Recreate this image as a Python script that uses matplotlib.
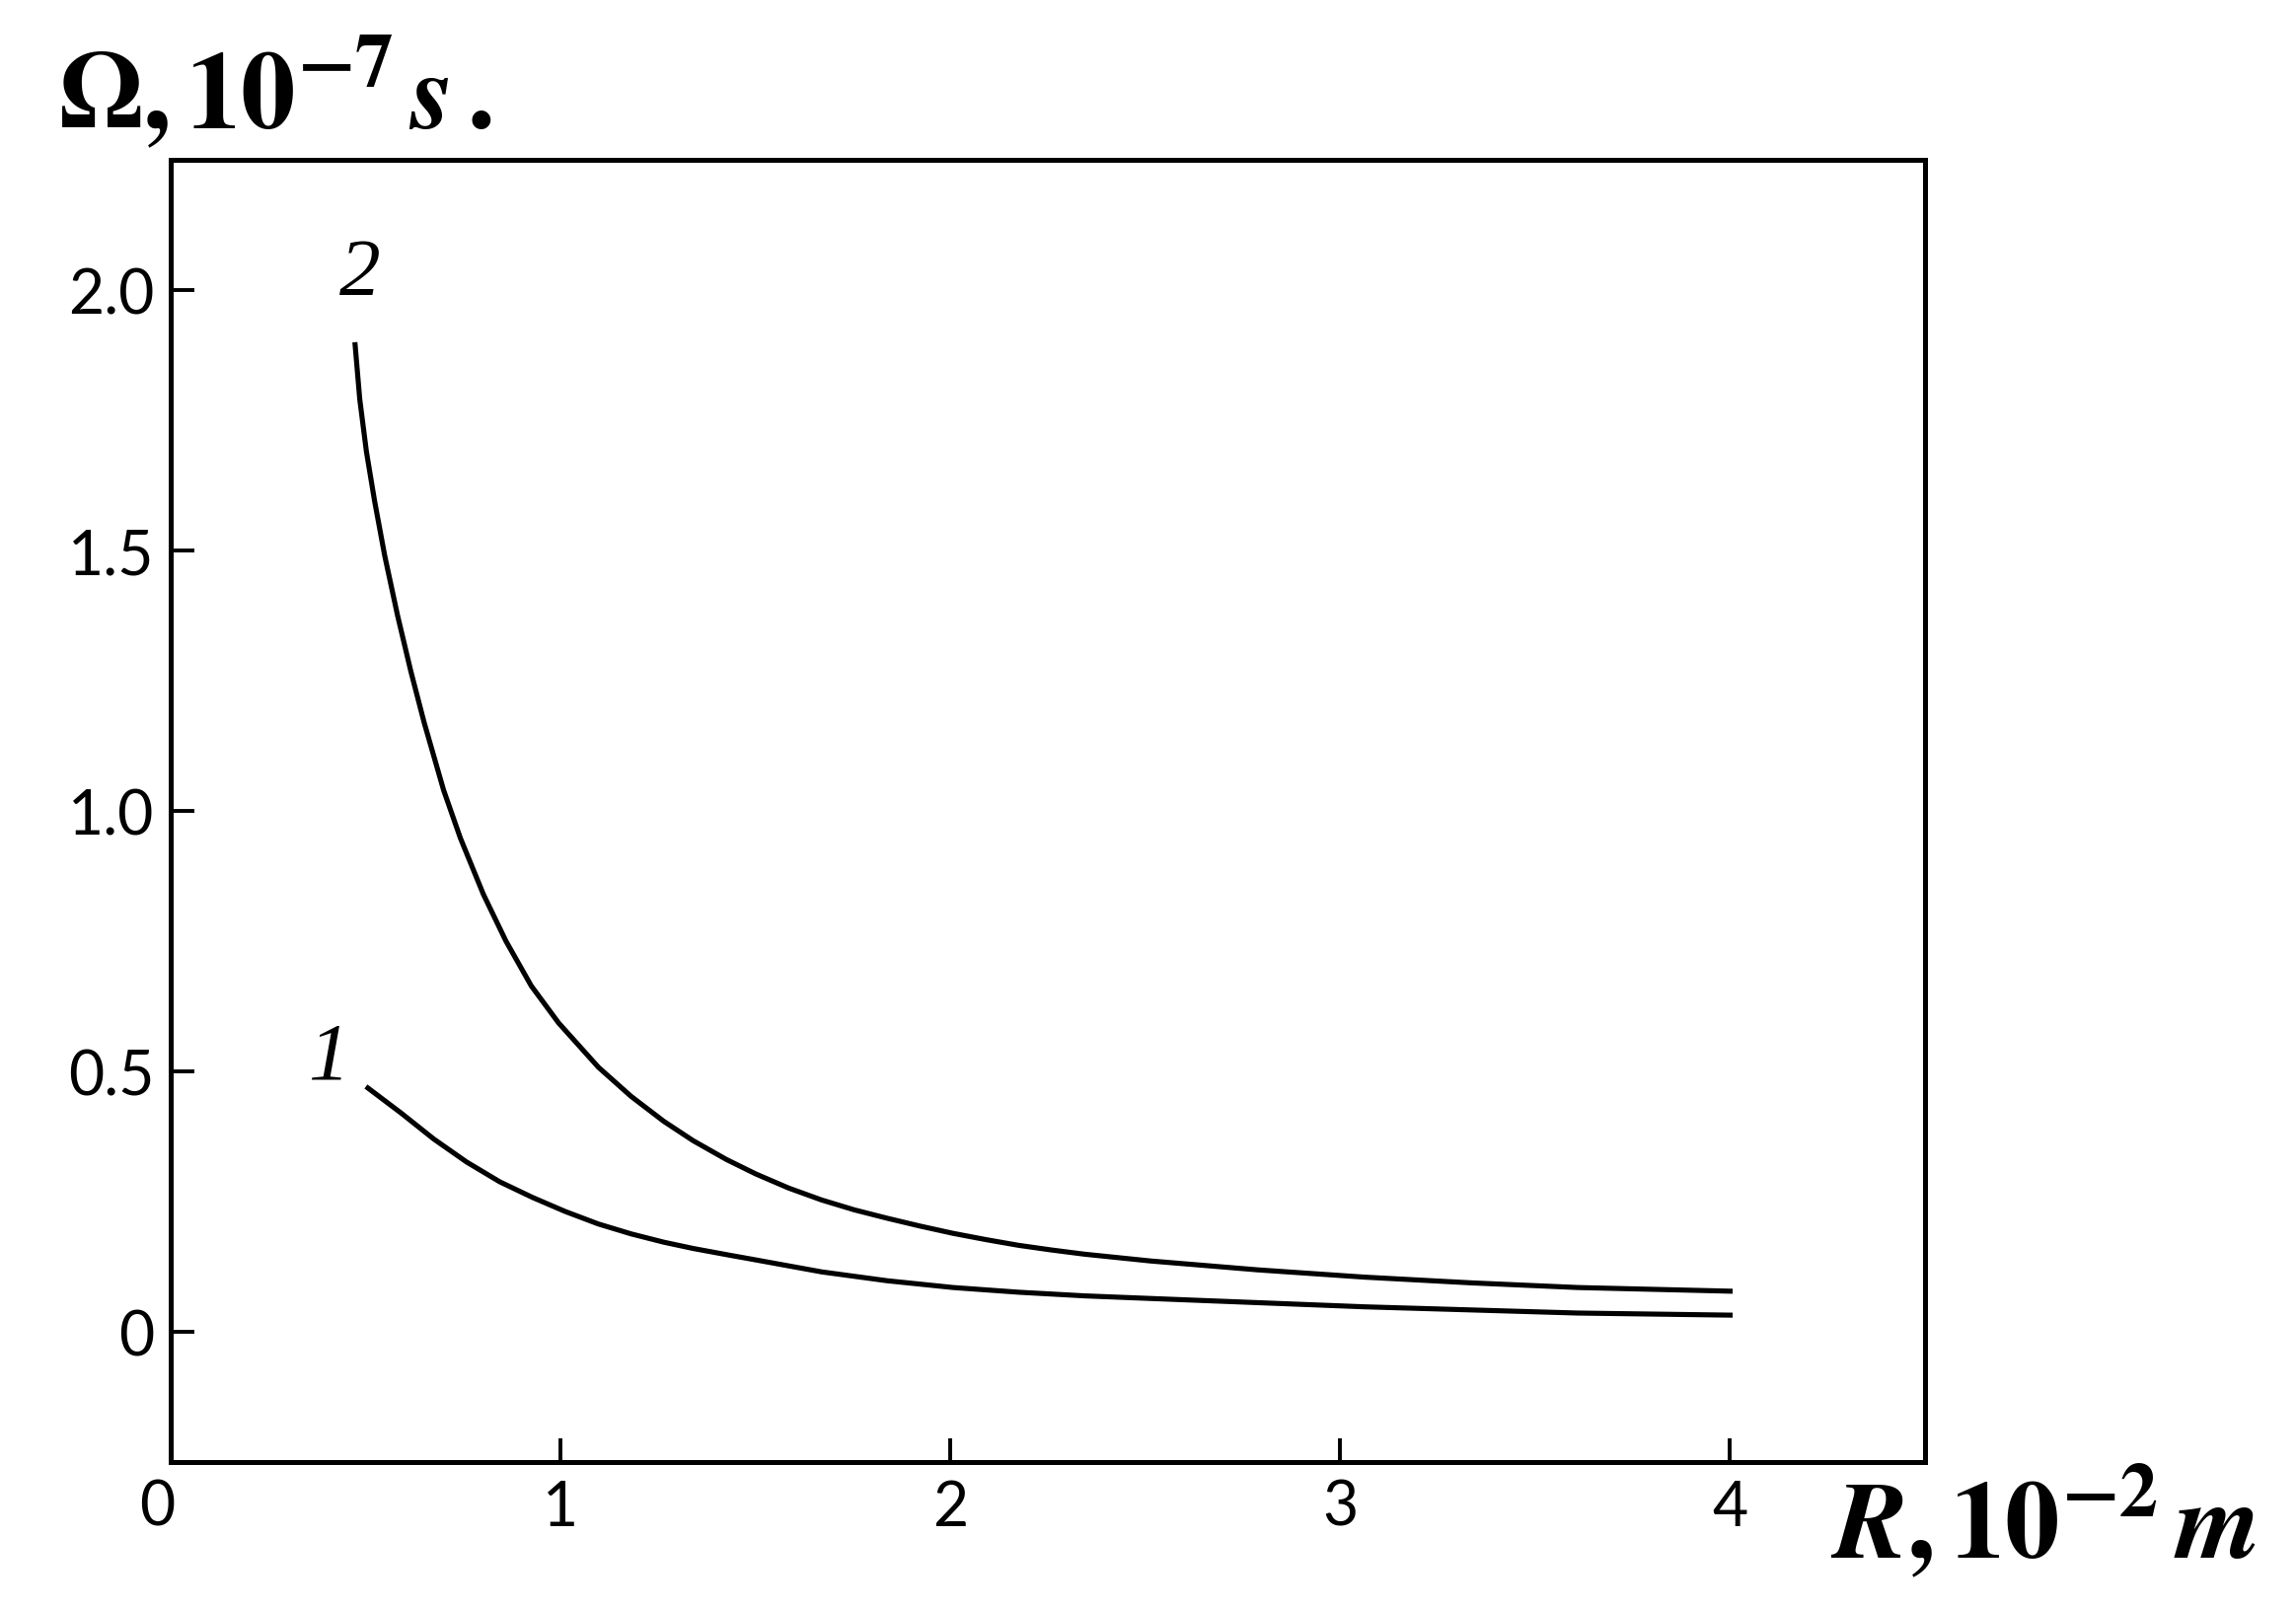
import matplotlib
matplotlib.use("Agg")
import matplotlib.pyplot as plt
import matplotlib.transforms as mtransforms

# 곡선 데이터
r_curve2 = [0.473, 0.485, 0.502, 0.523, 0.549, 0.582, 0.616, 0.650, 0.700, 0.743,
            0.802, 0.860, 0.925, 0.995, 1.097, 1.181, 1.265, 1.340, 1.425, 1.501,
            1.585, 1.670, 1.754, 1.838, 1.922, 2.007, 2.091, 2.175, 2.260, 2.344,
            2.513, 2.787, 3.061, 3.335, 3.609, 4.0]
omega_curve2 = [1.895, 1.790, 1.690, 1.595, 1.490, 1.375, 1.268, 1.170, 1.040, 0.948,
                0.840, 0.750, 0.664, 0.593, 0.508, 0.452, 0.404, 0.367, 0.331, 0.303,
                0.276, 0.253, 0.234, 0.218, 0.203, 0.189, 0.177, 0.166, 0.157, 0.149,
                0.136, 0.119, 0.105, 0.094, 0.085, 0.078]

r_curve1 = [0.506, 0.591, 0.675, 0.759, 0.844, 0.928, 1.012, 1.097, 1.181, 1.265,
            1.340, 1.434, 1.501, 1.670, 1.838, 2.007, 2.175, 2.344, 2.513, 2.787,
            3.061, 3.335, 3.609, 4.0]
omega_curve1 = [0.468, 0.420, 0.370, 0.326, 0.288, 0.258, 0.231, 0.207, 0.188, 0.172,
                0.160, 0.147, 0.138, 0.115, 0.098, 0.085, 0.076, 0.069, 0.064, 0.056,
                0.048, 0.042, 0.036, 0.032]

x_ticks = [0, 1, 2, 3, 4]
x_tick_labels = ["0", "1", "2", "3", "4"]
y_ticks = [0, 0.5, 1.0, 1.5, 2.0]
y_tick_labels = ["0", "0.5", "1.0", "1.5", "2.0"]

W, H = 2327, 1633
fig = plt.figure(figsize=(W / 100, H / 100), dpi=100)
ax = fig.add_axes([173 / W, 1 - 1483 / H, (1951 - 173) / W, (1483 - 163) / H])

ax.plot(r_curve2, omega_curve2, color="black", lw=3.7, solid_joinstyle="round")
ax.plot(r_curve1, omega_curve1, color="black", lw=3.7, solid_joinstyle="round")

ax.set_xlim(0, 4.5)
ax.set_ylim(-0.25, 2.25)

ax.set_xticks(x_ticks)
ax.set_xticklabels(x_tick_labels)
ax.set_yticks(y_ticks)
ax.set_yticklabels(y_tick_labels)
ax.tick_params(direction="in", length=17, width=2.8, labelsize=45, pad=12)
for lab in ax.get_xticklabels() + ax.get_yticklabels():
    lab.set_family("Lato")

# x축 "0" 라벨은 조금 왼쪽에 있음
lab0 = ax.get_xticklabels()[0]
lab0.set_transform(lab0.get_transform() + mtransforms.ScaledTranslation(-0.14, 0, fig.dpi_scale_trans))

for s in ax.spines.values():
    s.set_linewidth(3.6)

# 곡선 번호
ax.text(0.485, 2.03, "2", fontsize=60, family="Liberation Serif", style="italic",
        ha="center", va="center")
ax.text(0.405, 0.525, "1", fontsize=60, family="Liberation Serif", style="italic",
        ha="center", va="center")

# 축 제목
plt.rcParams["mathtext.fontset"] = "stix"
fig.text(59 / W, 1 - 131 / H, r"$\mathbf{\Omega,10^{-7}}\,\mathbfit{s}\,\mathbf{.}$",
         fontsize=80, ha="left", va="baseline")
fig.text(1855 / W, 1 - 1580 / H, r"$\mathbfit{R}\mathbf{,10^{-2}}\,\mathbfit{m}$",
         fontsize=80, ha="left", va="baseline")

fig.savefig("out.png", dpi=100)
